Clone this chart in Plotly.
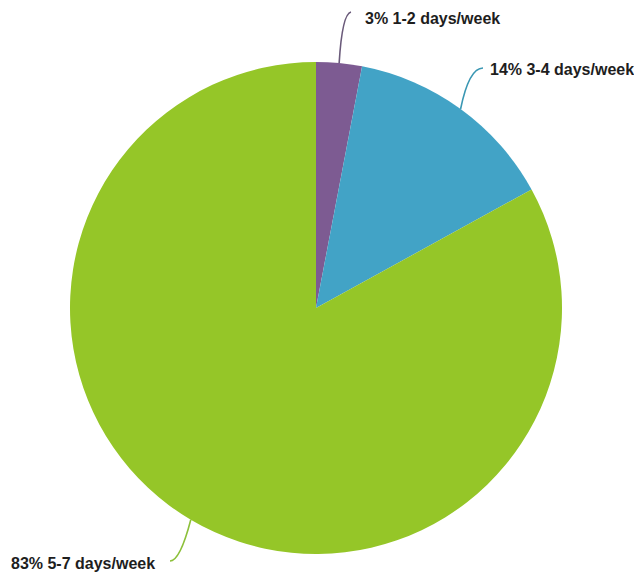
import math
import plotly.graph_objects as go

# данные
labels = ["1-2 days/week", "3-4 days/week", "5-7 days/week"]
values = [3, 14, 83]
colors = ["#7d5b92", "#42a3c6", "#95c628"]
line_colors = ["#6a5a7a", "#3a97b3", "#8cc03a"]

# страница имеет отступ body 8px, поэтому фигура 626x565
W, H = 626, 565
cx, cy, R = 308, 300, 246  # центр и радиус круга в пикселях

# положение подписей (px) и концы выносок
label_pos = [(355, 10, "left"), (480, 62, "left"), (149, 555, "right")]
line_ends = [(343, 4), (475, 60), (162, 553)]


def px(x, y):
    return x / W, 1 - y / H


fig = go.Figure()
fig.add_trace(go.Pie(
    labels=labels,
    values=values,
    marker=dict(colors=colors, line=dict(width=0)),
    sort=False,
    direction="clockwise",
    rotation=0,
    textinfo="none",
    hoverinfo="label+percent",
    domain=dict(x=[(cx - R) / W, (cx + R) / W],
                y=[1 - (cy + R) / H, 1 - (cy - R) / H]),
    showlegend=False,
))

total = sum(values)
acc = 0
shapes = []
annotations = []
for i, v in enumerate(values):
    mid = (acc + v / 2) / total * 2 * math.pi
    acc += v
    sx, sy = cx + R * math.sin(mid), cy - R * math.cos(mid)
    ex, ey = line_ends[i]
    if i == 0:
        qx, qy = sx + 3, ey + 2  # крючок вправо наверху
    elif i == 1:
        qx, qy = ex - 14, ey
    else:
        qx, qy = ex + 10, ey
    p0, p1, p2 = px(sx, sy), px(qx, qy), px(ex, ey)
    shapes.append(dict(
        type="path", xref="paper", yref="paper",
        path=f"M {p0[0]},{p0[1]} Q {p1[0]},{p1[1]} {p2[0]},{p2[1]}",
        line=dict(color=line_colors[i], width=1.6),
    ))
    lx, ly, anchor = label_pos[i]
    ax, ay = px(lx, ly)
    annotations.append(dict(
        x=ax, y=ay, xref="paper", yref="paper",
        text=f"<b>{v}% {labels[i]}</b>", showarrow=False,
        xanchor=anchor, yanchor="middle",
        font=dict(family="Liberation Sans, Arial", size=16, color="#1e1e1e"),
    ))

fig.update_layout(
    width=W, height=H,
    margin=dict(l=0, r=0, t=0, b=0),
    paper_bgcolor="white",
    plot_bgcolor="white",
    shapes=shapes,
    annotations=annotations,
)

fig.write_html("out.html")
